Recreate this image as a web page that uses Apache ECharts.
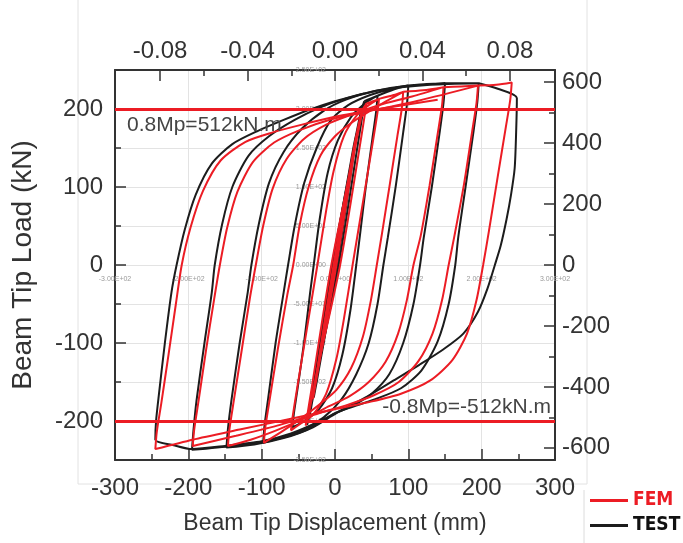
<!doctype html>
<html>
<head>
<meta charset="utf-8">
<title>Beam tip hysteresis</title>
<script src="https://cdn.jsdelivr.net/npm/echarts@6.0.0/dist/echarts.min.js"></script>
<style type="text/css">
	html, body {
		margin: 0;
		padding: 0;
		background: #fff;
	}
	#chart {
		width: 683px;
		height: 543px;
	}
</style>
</head>
<body>
<div id="chart"></div>
<script type="text/javascript">
	// tick labels
	var dispTicks = [-300, -200, -100, 0, 100, 200, 300];
	var rotTicks = [-0.08, -0.04, 0, 0.04, 0.08];
	var rotMinor = [-0.06, -0.02, 0.02, 0.06];
	var loadTicks = [-200, -100, 0, 100, 200];
	var loadMinor = [-150, -50, 50, 150];
	var momentTicks = [-600, -400, -200, 0, 200, 400, 600];
	var momentMinor = [-500, -300, -100, 100, 300, 500];
	var refLoads = [200, -200];
	var refTexts = ['0.8Mp=512kN.m', '-0.8Mp=-512kN.m'];

	// FEM cycles [displacement mm, load kN]
	var femLoop20 = [[0,0],[10,57],[20,114],[18,100],[0,-4],[-18,-104],[-20,-114],[-18,-100],[0,4],[18,104],[20,114]];
	var femLoop30 = [[20,114],[30,170],[28,155],[2,0],[-26,-150],[-30,-172],[-28,-157],[-2,0],[26,152],[30,170]];
	var femLoop40 = [[30,170],[37,198],[43,207],[41,195],[36,165],[7,0],[-22,-125],[-36,-192],[-40,-206],[-38,-194],[-33,-165],[-5,0],[24,135],[38,198],[43,207]];
	var femLoop60 = [[43,207],[52,210],[60,213],[58,196],[52,160],[24,0],[12,-70],[2,-120],[-12,-165],[-30,-192],[-48,-204],[-60,-212],[-58,-196],[-52,-160],[-24,0],[-12,70],[-2,120],[12,165],[30,192],[46,205],[60,213]];
	var femLoop100 = [[60,213],[80,218],[93,222],[91,200],[85,165],[75,105],[64,40],[57,0],[49,-45],[38,-92],[22,-132],[2,-160],[-20,-178],[-45,-196],[-70,-212],[-97,-228],[-95,-208],[-89,-172],[-78,-108],[-65,-38],[-57,0],[-48,52],[-36,100],[-20,140],[0,165],[22,182],[45,196],[70,210],[93,222]];
	var femLoop150 = [[93,222],[120,224],[148,228],[146,205],[140,168],[129,102],[117,38],[107,0],[98,-45],[86,-88],[69,-124],[46,-150],[20,-168],[-8,-181],[-40,-196],[-80,-212],[-115,-224],[-146,-232],[-144,-211],[-138,-174],[-127,-108],[-116,-42],[-108,0],[-98,50],[-85,98],[-66,136],[-42,162],[-12,180],[20,192],[60,205],[105,216],[148,228]];
	var femLoop200 = [[148,228],[172,229],[195,230],[193,208],[187,171],[176,104],[163,38],[155,0],[146,-45],[133,-88],[114,-123],[87,-150],[53,-167],[18,-179],[-22,-190],[-75,-205],[-135,-219],[-194,-232],[-192,-211],[-186,-174],[-176,-110],[-165,-45],[-157,0],[-147,48],[-133,94],[-112,132],[-83,157],[-48,173],[-8,186],[45,197],[115,211],[195,230]];
	var femLoop250 = [[195,230],[220,231],[241,234],[239,212],[233,177],[222,114],[210,44],[202,0],[193,-45],[180,-88],[160,-122],[130,-148],[90,-165],[45,-176],[0,-185],[-60,-197],[-130,-211],[-194,-224],[-245,-236],[-243,-214],[-237,-178],[-227,-115],[-217,-50],[-209,0],[-197,48],[-180,95],[-156,134],[-122,158],[-85,170],[-45,180],[0,190],[60,200],[140,212]];

	// TEST cycles [displacement mm, load kN]
	var testLoop20 = [[0,0],[10,60],[19,112],[17,98],[1,0],[-17,-100],[-19,-112],[-17,-98],[-1,0],[17,100],[19,112]];
	var testLoop30 = [[19,112],[29,168],[27,152],[3,0],[-25,-150],[-29,-170],[-27,-155],[-3,0],[25,150],[29,168]];
	var testLoop40 = [[29,168],[35,195],[40,210],[38,196],[33,166],[5,0],[-22,-128],[-34,-190],[-38,-205],[-36,-192],[-31,-162],[-4,0],[22,130],[35,195],[40,210]];
	var testLoop60 = [[40,210],[50,214],[58,217],[56,196],[51,162],[42,100],[34,38],[29,0],[21,-58],[10,-115],[-4,-158],[-22,-185],[-42,-200],[-58,-208],[-56,-190],[-51,-158],[-42,-98],[-34,-36],[-29,0],[-21,58],[-10,118],[4,160],[22,190],[42,208],[58,217]];
	var testLoop100 = [[58,217],[80,225],[100,230],[98,205],[93,170],[83,102],[72,35],[66,0],[58,-50],[46,-100],[29,-140],[9,-172],[-15,-195],[-45,-212],[-75,-222],[-98,-228],[-96,-205],[-91,-170],[-81,-100],[-70,-35],[-64,0],[-55,50],[-42,105],[-25,150],[-6,185],[18,205],[48,218],[78,226],[100,230]];
	var testLoop150 = [[100,230],[125,232],[150,233],[148,208],[143,172],[132,100],[121,35],[116,0],[107,-50],[93,-100],[74,-140],[50,-165],[25,-180],[2,-190],[-30,-208],[-70,-222],[-110,-230],[-148,-234],[-146,-210],[-141,-172],[-130,-100],[-119,-35],[-114,0],[-104,52],[-90,105],[-70,145],[-45,175],[-15,198],[15,212],[55,223],[100,230],[150,233]];
	var testLoop200 = [[150,233],[175,233],[196,233],[194,208],[189,172],[178,100],[168,35],[164,0],[155,-50],[140,-98],[118,-135],[90,-158],[55,-172],[20,-183],[0,-190],[-40,-212],[-88,-225],[-140,-232],[-195,-237],[-193,-212],[-189,-175],[-178,-100],[-168,-35],[-164,0],[-154,52],[-140,100],[-118,140],[-90,165],[-55,186],[-20,202],[10,212],[60,224],[130,231],[196,233]];
	var testLoop250 = [[196,233],[222,226],[248,214],[247,170],[245,124],[240,90],[234,59],[226,25],[218,0],[208,-30],[195,-60],[175,-88],[148,-108],[115,-128],[80,-148],[45,-168],[15,-183],[-20,-200],[-60,-216],[-100,-226],[-150,-232],[-195,-236],[-220,-231],[-245,-224],[-244,-200],[-240,-165],[-232,-100],[-223,-35],[-216,0],[-205,45],[-190,90],[-168,130],[-140,155],[-105,172],[-70,186],[-35,199],[0,210],[40,220]];

	var femLoops = [femLoop20, femLoop30, femLoop40, femLoop60, femLoop100, femLoop150, femLoop200, femLoop250];
	var testLoops = [testLoop20, testLoop30, testLoop40, testLoop60, testLoop100, testLoop150, testLoop200, testLoop250];

	var RED = '#ec1c24';
	var BLACK = '#1c1c1c';
	var FONT = 'Liberation Sans, Arial, sans-serif';
	var rotMax = 0.1006;

	// plot box, zero lines of the pasted background chart follow from it
	var plot = { left: 115, right: 128, top: 70, bottom: 83 };
	var zeroY = 543 - (70 + 390 / 2);

	function sci(v) {
		var parts = v.toExponential(2).toUpperCase().split('E');
		var exp = parts[1];
		var digits = exp.slice(1);
		if (digits.length < 2) digits = '0' + digits;
		return parts[0] + 'E' + exp[0] + digits;
	}

	var frameLine = { show: true, onZero: false, lineStyle: { color: '#333', width: 2 } };
	var faintLabel = { fontSize: 7, color: '#9a9a9a', formatter: sci, fontFamily: FONT };

	var series = [];
	for (var i = 0; i < testLoops.length; i++) {
		series.push({
			name: 'TEST',
			type: 'line',
			data: testLoops[i],
			showSymbol: false,
			smooth: 0.25,
			color: BLACK,
			lineStyle: { color: BLACK, width: 2 },
			z: 3
		});
	}
	for (var j = 0; j < femLoops.length; j++) {
		series.push({
			name: 'FEM',
			type: 'line',
			data: femLoops[j],
			showSymbol: false,
			smooth: 0.25,
			color: RED,
			lineStyle: { color: RED, width: 2 },
			z: 4
		});
	}
	series.push({
		name: 'ref',
		type: 'line',
		data: [],
		z: 5,
		markLine: {
			silent: true,
			symbol: 'none',
			animation: false,
			lineStyle: { color: RED, width: 3, type: 'solid' },
			data: [
				{ yAxis: refLoads[0], label: { formatter: refTexts[0], position: 'insideStartBottom', distance: [12, 6] } },
				{ yAxis: refLoads[1], label: { formatter: refTexts[1], position: 'insideEndTop', distance: [4, 3] } }
			],
			label: { color: '#444', fontSize: 21, fontFamily: FONT }
		}
	});

	var chart = echarts.init(document.getElementById('chart'));
	var option = {
		animation: false,
		backgroundColor: '#fff',
		grid: [
			{ left: plot.left, right: plot.right, top: plot.top, bottom: plot.bottom, outerBoundsMode: 'none' },
			{ left: plot.left, right: plot.right, top: plot.top, bottom: plot.bottom, outerBoundsMode: 'none' },
			{ left: plot.left, right: plot.right, top: plot.top, bottom: zeroY, outerBoundsMode: 'none' },
			{ left: 683 - plot.right - 220, right: plot.right, top: plot.top, bottom: plot.bottom, outerBoundsMode: 'none' }
		],
		legend: {
			orient: 'vertical',
			left: 590,
			top: 491,
			height: 60,
			padding: 0,
			icon: 'rect',
			itemWidth: 38,
			itemHeight: 3,
			itemGap: 6,
			textStyle: { fontSize: 19, fontWeight: 'bold', fontFamily: 'Liberation Sans Narrow, DejaVu Sans Condensed, Arial, sans-serif' },
			data: [
				{ name: 'FEM', textStyle: { color: RED } },
				{ name: 'TEST', textStyle: { color: '#111' } }
			]
		},
		graphic: [
			{ type: 'polyline', shape: { points: [[78, 0], [78, 484], [587, 484], [587, 0]] }, style: { stroke: '#e2e2e2', fill: null, lineWidth: 1 }, silent: true, z: -1 },
			{ type: 'line', shape: { x1: 584, y1: 490, x2: 584, y2: 543 }, style: { stroke: '#dcdcdc', lineWidth: 1 }, silent: true, z: -1 }
		],
		xAxis: [
			{
				type: 'value', gridIndex: 0, position: 'bottom',
				min: -300, max: 300, interval: 100,
				axisLine: frameLine,
				axisTick: { inside: true, length: 11, lineStyle: { color: '#333', width: 1.5 } },
				minorTick: { show: true, splitNumber: 2, length: 6, lineStyle: { color: '#333', width: 1.5 } },
				axisLabel: { margin: 16, fontSize: 24, color: '#333', fontFamily: FONT },
				splitLine: { show: false },
				name: 'Beam Tip Displacement (mm)', nameLocation: 'middle', nameGap: 52,
				nameTextStyle: { fontSize: 23, color: '#333', fontFamily: FONT }
			},
			{
				type: 'value', gridIndex: 0, position: 'top',
				min: -rotMax, max: rotMax,
				axisLine: frameLine,
				axisTick: { inside: true, length: 11, customValues: rotTicks, lineStyle: { color: '#333', width: 1.5 } },
				axisLabel: { margin: 7, fontSize: 24, color: '#333', fontFamily: FONT, customValues: rotTicks,
					formatter: function (v) { return v.toFixed(2); } },
				splitLine: { show: false }
			},
			{
				type: 'value', gridIndex: 0, position: 'top',
				min: -rotMax, max: rotMax,
				axisLine: { show: false, onZero: false },
				axisTick: { inside: true, length: 6, customValues: rotMinor, lineStyle: { color: '#333', width: 1.5 } },
				axisLabel: { show: false },
				splitLine: { show: false }
			},
			{
				// faint grid of the background chart
				type: 'value', gridIndex: 1,
				min: -300, max: 300, interval: 100,
				axisLine: { show: false, onZero: false },
				axisTick: { show: false },
				axisLabel: { show: false },
				splitLine: { show: true, lineStyle: { color: '#e3e3e3', width: 1 } }
			},
			{
				// background chart x labels sitting under its zero line
				type: 'value', gridIndex: 2, position: 'bottom',
				min: -300, max: 300, interval: 100,
				axisLine: { show: false, onZero: false },
				axisTick: { show: false },
				axisLabel: Object.assign({ margin: 11 }, faintLabel),
				splitLine: { show: false }
			},
			{ type: 'value', gridIndex: 3, show: false, min: 0, max: 300 }
		],
		yAxis: [
			{
				type: 'value', gridIndex: 0, position: 'left',
				min: -250, max: 250,
				axisLine: frameLine,
				axisTick: { inside: true, length: 11, customValues: loadTicks, lineStyle: { color: '#333', width: 1.5 } },
				axisLabel: { margin: 12, fontSize: 24, color: '#333', fontFamily: FONT, customValues: loadTicks },
				splitLine: { show: false },
				name: 'Beam Tip Load (kN)', nameLocation: 'middle', nameGap: 78, nameRotate: 90,
				nameTextStyle: { fontSize: 28, color: '#333', fontFamily: FONT }
			},
			{
				type: 'value', gridIndex: 0, position: 'left',
				min: -250, max: 250,
				axisLine: { show: false, onZero: false },
				axisTick: { inside: true, length: 6, customValues: loadMinor, lineStyle: { color: '#333', width: 1.5 } },
				axisLabel: { show: false },
				splitLine: { show: false }
			},
			{
				type: 'value', gridIndex: 0, position: 'right',
				min: -640, max: 640,
				axisLine: frameLine,
				axisTick: { inside: true, length: 11, customValues: momentTicks, lineStyle: { color: '#333', width: 1.5 } },
				axisLabel: { margin: 7, fontSize: 24, color: '#333', fontFamily: FONT, customValues: momentTicks },
				splitLine: { show: false }
			},
			{
				type: 'value', gridIndex: 0, position: 'right',
				min: -640, max: 640,
				axisLine: { show: false, onZero: false },
				axisTick: { inside: true, length: 6, customValues: momentMinor, lineStyle: { color: '#333', width: 1.5 } },
				axisLabel: { show: false },
				splitLine: { show: false }
			},
			{
				type: 'value', gridIndex: 1,
				min: -250, max: 250, interval: 50,
				axisLine: { show: false, onZero: false },
				axisTick: { show: false },
				axisLabel: { show: false },
				splitLine: { show: true, lineStyle: { color: '#e3e3e3', width: 1 } }
			},
			{ type: 'value', gridIndex: 2, show: false, min: 0, max: 250 },
			{
				// background chart y labels left of its zero line
				type: 'value', gridIndex: 3, position: 'left',
				min: -250, max: 250, interval: 50,
				axisLine: { show: false, onZero: false },
				axisTick: { show: false },
				axisLabel: Object.assign({ margin: 9 }, faintLabel),
				splitLine: { show: false }
			}
		],
		series: series
	};
	chart.setOption(option);
</script>
</body>
</html>
